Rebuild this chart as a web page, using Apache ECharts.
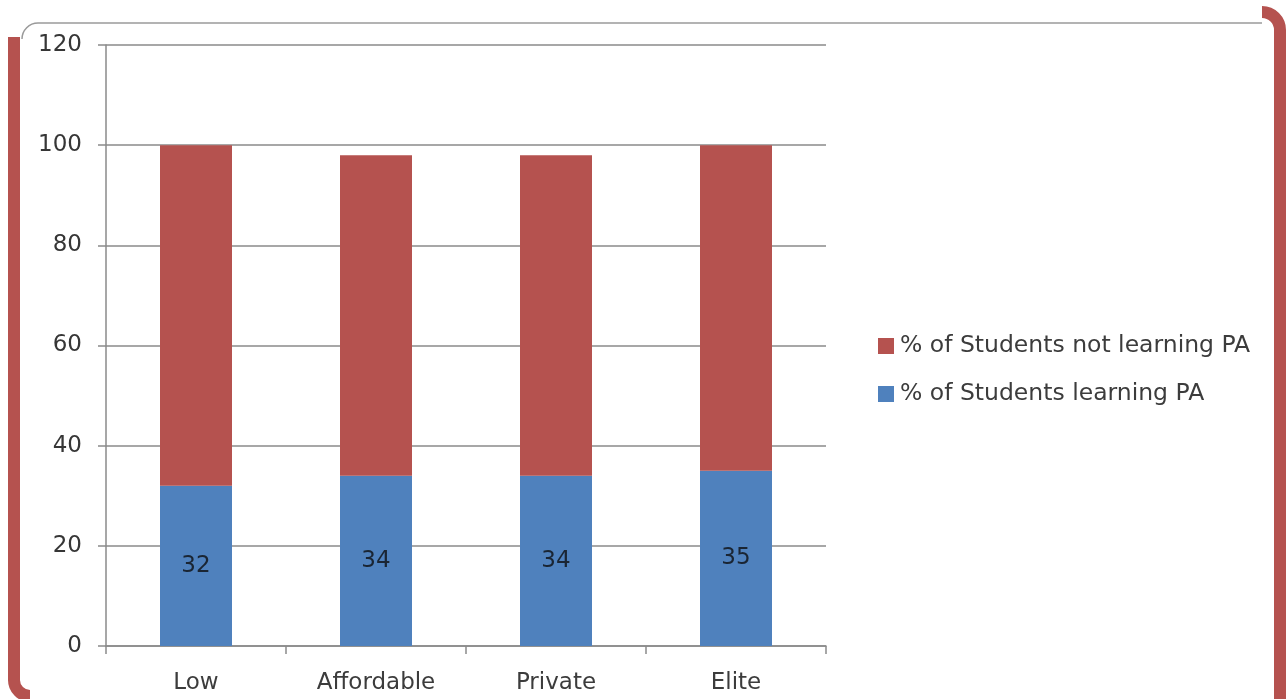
<!DOCTYPE html>
<html>
<head>
<meta charset="utf-8">
<script src="https://cdn.jsdelivr.net/npm/echarts@6/dist/echarts.min.js"></script>
<style>
html,body{margin:0;padding:0;background:#fff;}
#chart{width:1286px;height:699px;}
</style>
</head>
<body>
<div id="chart"></div>
<script>
const categories = ['Low', 'Affordable', 'Private', 'Elite'];
const learning = [32, 34, 34, 35];
const notLearning = [68, 64, 64, 65];
const seriesNames = ['% of Students not learning PA', '% of Students learning PA'];
const yTicks = { min: 0, max: 120, interval: 20 };

const RED = '#B5524F';
const BLUE = '#4F81BD';
const FONT = '"DejaVu Sans", sans-serif';

const chart = echarts.init(document.getElementById('chart'));
chart.setOption({
  backgroundColor: '#ffffff',
  animation: false,
  grid: { left: 106, right: 460, top: 45, bottom: 53 },
  legend: {
    orient: 'vertical',
    left: 873,
    top: 329,
    itemWidth: 16,
    itemHeight: 16,
    itemGap: 24,
    icon: 'rect',
    data: [seriesNames[0], seriesNames[1]],
    textStyle: { fontFamily: FONT, fontSize: 23.5, color: '#3c3c3c', padding: [0, 0, 0, 1] }
  },
  xAxis: {
    type: 'category',
    data: categories,
    axisLine: { lineStyle: { color: '#8a8a8a', width: 1.5 } },
    axisTick: { show: true, length: 8, lineStyle: { color: '#8a8a8a', width: 1.5 } },
    axisLabel: { margin: 26, fontFamily: FONT, fontSize: 23, color: '#3c3c3c' }
  },
  yAxis: {
    type: 'value',
    min: yTicks.min,
    max: yTicks.max,
    interval: yTicks.interval,
    axisLine: { show: true, lineStyle: { color: '#8a8a8a', width: 1.5 } },
    axisTick: { show: true, length: 8, lineStyle: { color: '#8a8a8a', width: 1.5 } },
    axisLabel: { margin: 24, fontFamily: FONT, fontSize: 23, color: '#363636' },
    splitLine: { lineStyle: { color: '#8a8a8a', width: 1.5 } }
  },
  series: [
    {
      name: seriesNames[1],
      type: 'bar',
      stack: 'total',
      data: learning,
      barWidth: 72,
      itemStyle: { color: BLUE },
      label: { show: true, position: 'inside', fontFamily: FONT, fontSize: 23, color: '#1a2533' }
    },
    {
      name: seriesNames[0],
      type: 'bar',
      stack: 'total',
      data: notLearning,
      barWidth: 72,
      itemStyle: { color: RED }
    }
  ],
  graphic: [
    { type: 'line', shape: { x1: 14, y1: 37, x2: 14, y2: 680 }, style: { stroke: RED, lineWidth: 12 } },
    { type: 'arc', shape: { cx: 30, cy: 680, r: 16, startAngle: Math.PI / 2, endAngle: Math.PI, clockwise: true }, style: { fill: null, stroke: RED, lineWidth: 12 } },
    { type: 'arc', shape: { cx: 1262, cy: 30, r: 18, startAngle: -Math.PI / 2, endAngle: 0, clockwise: true }, style: { fill: null, stroke: RED, lineWidth: 12 } },
    { type: 'line', shape: { x1: 1280, y1: 30, x2: 1280, y2: 699 }, style: { stroke: RED, lineWidth: 12 } },
    { type: 'arc', shape: { cx: 38, cy: 39, r: 16, startAngle: Math.PI, endAngle: Math.PI * 1.5, clockwise: true }, style: { fill: null, stroke: '#9a9a9a', lineWidth: 1.5 } },
    { type: 'line', shape: { x1: 38, y1: 23, x2: 1262, y2: 23 }, style: { stroke: '#9a9a9a', lineWidth: 1.5 } }
  ]
});
</script>
</body>
</html>
